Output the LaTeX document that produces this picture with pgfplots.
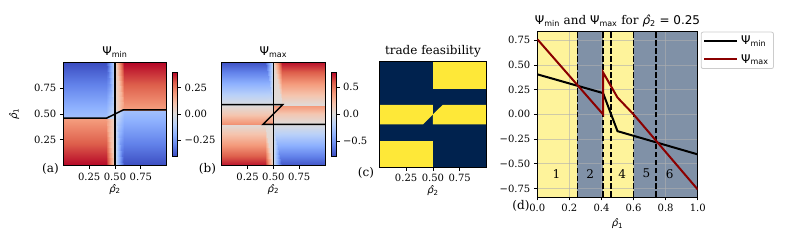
\documentclass[border=0pt]{standalone}
\usepackage{fontspec}
\setmainfont{DejaVu Serif}
\setsansfont{DejaVu Sans}
\usepackage{pgfplots}
\pgfplotsset{compat=1.18}
\usepgfplotslibrary{patchplots}

\definecolor{cvnavy}{RGB}{0,34,78}
\definecolor{cvyellow}{RGB}{254,232,56}
\definecolor{bandY}{RGB}{254,243,155}
\definecolor{bandB}{RGB}{128,145,167}
\definecolor{psimaxc}{RGB}{139,0,0}
\definecolor{gridc}{RGB}{176,176,176}

\newcommand{\rh}[1]{{\sffamily\itshape ρ̂\upshape\textsubscript{#1}}}
\newcommand{\Psimin}{{\sffamily Ψ\textsubscript{min}}}
\newcommand{\Psimax}{{\sffamily Ψ\textsubscript{max}}}

\pgfplotsset{
  colormap={coolwarm}{rgb255=(59,76,192) rgb255=(98,130,234) rgb255=(141,176,254) rgb255=(184,208,249) rgb255=(221,221,221) rgb255=(245,196,173) rgb255=(244,154,123) rgb255=(222,96,76) rgb255=(180,4,38)},
  mplaxis/.style={scale only axis, enlargelimits=false, tick align=outside,
    major tick length=3.5pt, every tick/.style={black, line width=0.8pt},
    axis line style={black, line width=0.8pt}, tick pos=left,
    tick label style={font=\fontsize{10}{12}\selectfont},
    label style={font=\fontsize{10}{12}\selectfont},
    title style={font=\fontsize{12}{14.4}\selectfont, yshift=-5pt}},
  hm/.style={mplaxis, xmin=0, xmax=1, ymin=0, ymax=1, axis on top,
    xtick={0.25,0.5,0.75}, xticklabels={0.25,0.50,0.75},
    xlabel shift=-3pt, colormap name=coolwarm},
  cbar/.style={at={(parent axis.east)}, anchor=west,
    colorbar shift/.style={xshift=6pt},
    scale only axis, width=5pt, height=84pt, tick align=outside,
    major tick length=3.5pt, every tick/.style={black, line width=0.8pt},
    axis line style={black, line width=0.8pt},
    ytick pos=right, yticklabel pos=right,
    tick label style={font=\fontsize{10}{12}\selectfont}},
}

\begin{document}
\begin{tikzpicture}
\path (0,0) rectangle (793pt,248pt);

% ---------------- (a) Psi_min ----------------
\begin{axis}[hm, at={(63.3pt,82.3pt)}, anchor=south west,
  width=103.4pt, height=103.4pt,
  point meta min=-0.4, point meta max=0.4,
  ytick={0.25,0.5,0.75}, yticklabels={0.25,0.50,0.75},
  xlabel={\rh{2}}, ylabel={\rh{1}}, ylabel shift=8pt,
  title={\Psimin},
  colorbar,
  colorbar style={cbar, ytick={-0.25,0,0.25}, yticklabels={−0.25,0.00,0.25}},
]
\addplot[patch, patch type=rectangle, shader=interp, point meta=explicit]
 table[meta=c, row sep=\\] {
x y c\\
0 0 0.40\\ 0.417 0 0.40\\ 0.417 0.459 0.19\\ 0 0.459 0.19\\
0.417 0 0.40\\ 0.5 0 0.05\\ 0.5 0.459 0.02\\ 0.417 0.459 0.19\\
0 0.459 -0.15\\ 0.417 0.459 -0.15\\ 0.417 1 -0.40\\ 0 1 -0.40\\
0.417 0.459 -0.15\\ 0.5 0.459 -0.02\\ 0.5 1 -0.05\\ 0.417 1 -0.40\\
0.5 0 -0.05\\ 0.583 0 -0.40\\ 0.583 0.541 -0.15\\ 0.5 0.541 -0.02\\
0.583 0 -0.40\\ 1 0 -0.40\\ 1 0.541 -0.15\\ 0.583 0.541 -0.15\\
0.5 0.541 0.02\\ 0.583 0.541 0.19\\ 0.583 1 0.40\\ 0.5 1 0.05\\
0.583 0.541 0.19\\ 1 0.541 0.19\\ 1 1 0.40\\ 0.583 1 0.40\\
};
\addplot[black, line width=1.5pt] coordinates {(0,0.459) (0.417,0.459) (0.583,0.541) (1,0.541)};
\addplot[black, line width=1.5pt] coordinates {(0.5,0) (0.5,1)};
\end{axis}

% ---------------- (b) Psi_max ----------------
\begin{axis}[hm, at={(221.7pt,82.3pt)}, anchor=south west,
  width=103.3pt, height=103.4pt,
  point meta min=-0.78, point meta max=0.78,
  ytick=\empty,
  xlabel={\rh{2}},
  title={\Psimax},
  colorbar,
  colorbar style={cbar, ytick={-0.5,0,0.5}, yticklabels={−0.5,0.0,0.5}},
]
\addplot[patch, patch type=rectangle, shader=interp, point meta=explicit]
 table[meta=c, row sep=\\] {
x y c\\
0 0 0.76\\ 0.417 0 0.76\\ 0.417 0.40 0.02\\ 0 0.40 0.02\\
0.417 0 0.76\\ 0.5 0 0.09\\ 0.5 0.40 0.00\\ 0.417 0.40 0.02\\
0 0.40 0.42\\ 0.5 0.40 0.42\\ 0.5 0.5 0.17\\ 0 0.5 0.17\\
0 0.5 0.17\\ 0.5 0.5 0.17\\ 0.5 0.59 0.01\\ 0 0.59 0.01\\
0 0.59 -0.01\\ 0.417 0.59 -0.01\\ 0.417 1 -0.76\\ 0 1 -0.76\\
0.417 0.59 -0.01\\ 0.5 0.59 0.00\\ 0.5 1 -0.09\\ 0.417 1 -0.76\\
0.5 0 -0.09\\ 0.583 0 -0.76\\ 0.583 0.40 -0.01\\ 0.5 0.40 0.00\\
0.583 0 -0.76\\ 1 0 -0.76\\ 1 0.40 -0.01\\ 0.583 0.40 -0.01\\
0.5 0.40 0.01\\ 1 0.40 0.01\\ 1 0.5 0.17\\ 0.5 0.5 0.17\\
0.5 0.5 0.17\\ 1 0.5 0.17\\ 1 0.59 0.42\\ 0.5 0.59 0.42\\
0.5 0.59 0.00\\ 0.583 0.59 0.02\\ 0.583 1 0.76\\ 0.5 1 0.09\\
0.583 0.59 0.02\\ 1 0.59 0.02\\ 1 1 0.76\\ 0.583 1 0.76\\
};
\addplot[black, line width=1.5pt] coordinates {(0,0.59) (0.59,0.59) (0.40,0.40) (1,0.40)};
\addplot[black, line width=1.5pt] coordinates {(0.5,0) (0.5,1)};
\end{axis}

% ---------------- (c) trade feasibility ----------------
\begin{axis}[hm, at={(379.3pt,80.7pt)}, anchor=south west,
  width=107.2pt, height=105.6pt,
  ytick=\empty,
  xlabel={\rh{2}},
  title={trade feasibility},
]
\addplot[fill=cvnavy, draw=none] coordinates {(0,0) (1,0) (1,1) (0,1)} -- cycle;
\addplot[fill=cvyellow, draw=none] coordinates {(0.5,0.746) (1,0.746) (1,1) (0.5,1)} -- cycle;
\addplot[fill=cvyellow, draw=none] coordinates {(0,0.406) (0.406,0.406) (0.5,0.5) (0.5,0.59) (0,0.59)} -- cycle;
\addplot[fill=cvyellow, draw=none] coordinates {(0.5,0.406) (1,0.406) (1,0.59) (0.59,0.59) (0.5,0.5)} -- cycle;
\addplot[fill=cvyellow, draw=none] coordinates {(0,0) (0.5,0) (0.5,0.25) (0,0.25)} -- cycle;
\end{axis}

% ---------------- (d) line plot ----------------
\begin{axis}[mplaxis, at={(537.3pt,51pt)}, anchor=south west,
  width=160.4pt, height=165.3pt,
  xmin=0, xmax=1, ymin=-0.836, ymax=0.836,
  set layers,
  xtick={0,0.2,0.4,0.6,0.8,1}, xticklabels={0.0,0.2,0.4,0.6,0.8,1.0},
  ytick={-0.75,-0.5,-0.25,0,0.25,0.5,0.75},
  yticklabels={−0.75,−0.50,−0.25,0.00,0.25,0.50,0.75},
  grid=major, grid style={gridc, line width=0.8pt, opacity=0.6},
  xlabel={\rh{1}},
  title={\Psimin{} and \Psimax{} for \rh{2}{\sffamily{} = 0.25}},
  legend style={at={(1.019,1)}, anchor=north west, draw=black!20,
    rounded corners=2pt, line width=0.8pt, inner xsep=2pt, inner ysep=2pt,
    row sep=4pt, nodes={inner xsep=3pt, inner ysep=2pt},
    font=\fontsize{12}{14.4}\selectfont, cells={anchor=west}},
  legend image code/.code={\draw[#1] (0pt,0pt) -- (29pt,0pt); \path (0pt,0pt) -- (33pt,0pt);},
]
\addplot[on layer=axis background, forget plot, fill=bandY, draw=none] coordinates {(0,-0.836) (0.25,-0.836) (0.25,0.836) (0,0.836)} -- cycle;
\addplot[on layer=axis background, forget plot, fill=bandB, draw=none] coordinates {(0.25,-0.836) (0.41,-0.836) (0.41,0.836) (0.25,0.836)} -- cycle;
\addplot[on layer=axis background, forget plot, fill=bandY, draw=none] coordinates {(0.41,-0.836) (0.46,-0.836) (0.46,0.836) (0.41,0.836)} -- cycle;
\addplot[on layer=axis background, forget plot, fill=bandY, draw=none] coordinates {(0.46,-0.836) (0.6,-0.836) (0.6,0.836) (0.46,0.836)} -- cycle;
\addplot[on layer=axis background, forget plot, fill=bandB, draw=none] coordinates {(0.6,-0.836) (0.74,-0.836) (0.74,0.836) (0.6,0.836)} -- cycle;
\addplot[on layer=axis background, forget plot, fill=bandB, draw=none] coordinates {(0.74,-0.836) (1,-0.836) (1,0.836) (0.74,0.836)} -- cycle;
\addplot[forget plot, black, line width=1.7pt, dash pattern=on 5.55pt off 2.4pt] coordinates {(0.25,-0.836) (0.25,0.836)};
\addplot[forget plot, black, line width=1.7pt, dash pattern=on 5.55pt off 2.4pt] coordinates {(0.41,-0.836) (0.41,0.836)};
\addplot[forget plot, black, line width=1.7pt, dash pattern=on 5.55pt off 2.4pt] coordinates {(0.46,-0.836) (0.46,0.836)};
\addplot[forget plot, black, line width=1.7pt, dash pattern=on 5.55pt off 2.4pt] coordinates {(0.6,-0.836) (0.6,0.836)};
\addplot[forget plot, black, line width=1.7pt, dash pattern=on 5.55pt off 2.4pt] coordinates {(0.74,-0.836) (0.74,0.836)};
\addplot[black, line width=2pt] coordinates {(0,0.405) (0.41,0.215) (0.5,-0.17) (1,-0.405)};
\addlegendentry{\fontsize{12}{14.4}\selectfont\Psimin}
\addplot[psimaxc, line width=2pt] coordinates {(0,0.76) (0.41,0) (0.41,0.425) (0.5,0.17) (0.6,0) (1,-0.76)};
\addlegendentry{\fontsize{12}{14.4}\selectfont\Psimax}
\node[font=\fontsize{12}{14.4}\selectfont] at (axis cs:0.12,-0.6) {1};
\node[font=\fontsize{12}{14.4}\selectfont] at (axis cs:0.33,-0.6) {2};
\node[font=\fontsize{12}{14.4}\selectfont] at (axis cs:0.53,-0.6) {4};
\node[font=\fontsize{12}{14.4}\selectfont] at (axis cs:0.68,-0.6) {5};
\node[font=\fontsize{12}{14.4}\selectfont] at (axis cs:0.825,-0.6) {6};
\end{axis}

\node[font=\fontsize{12}{14.4}\selectfont] at (50.5pt,79pt) {(a)};
\node[font=\fontsize{12}{14.4}\selectfont] at (207.5pt,79pt) {(b)};
\node[font=\fontsize{12}{14.4}\selectfont] at (366pt,75pt) {(c)};
\node[font=\fontsize{12}{14.4}\selectfont] at (521pt,42.3pt) {(d)};
\end{tikzpicture}
\end{document}
